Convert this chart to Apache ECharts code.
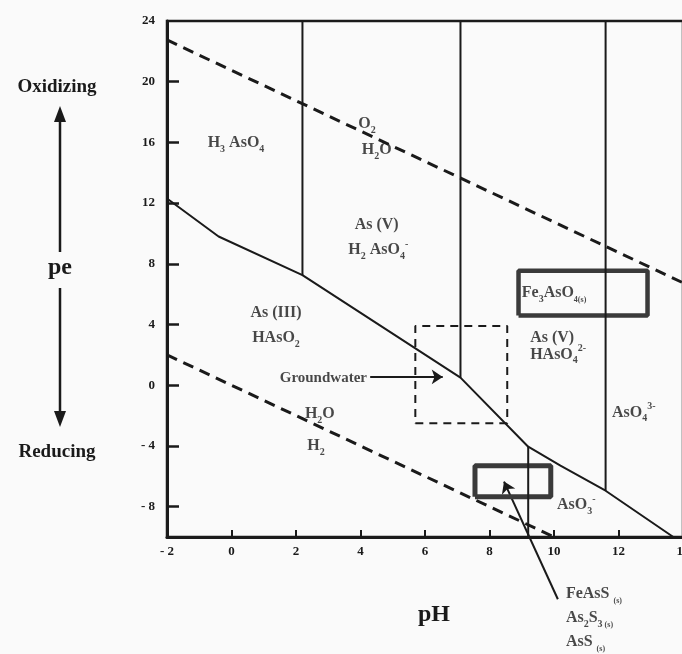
<!DOCTYPE html>
<html>
<head>
<meta charset="utf-8">
<title>pe–pH diagram for arsenic</title>
<script src="https://cdn.jsdelivr.net/npm/echarts@6/dist/echarts.min.js"></script>
<style>
  html, body { margin: 0; padding: 0; background: #fafafa; }
  #chart { width: 682px; height: 654px; }
</style>
</head>
<body>
<div id="chart"></div>
<script>
// ---- data -------------------------------------------------------------
const phTickLabels = [-2, 0, 2, 4, 6, 8, 10, 12, 14];
const phTickMarks  = [0, 2, 4, 6, 8, 10, 12];
const peTickLabels = [-8, -4, 0, 4, 8, 12, 16, 20, 24];
const peTickMarks  = [-8, -4, 0, 4, 8, 12, 16, 20];

// upper and lower stability limits of water
const o2H2oLimit = [[-2, 22.75], [14, 6.75]];
const h2oH2Limit = [[-2, 2], [10, -10]];

// As(V) / As(III) boundary
const redoxBoundary = [
  [-2, 12.3], [-0.4, 9.8], [2.2, 7.25], [7.1, 0.5],
  [9.2, -4.05], [10.2, -5.3], [11.6, -6.95], [13.7, -10]
];

// acid–base boundaries: pH, pe at one end, pe at the other
const pKaBoundaries = [
  [2.2, 24, 7.25],
  [7.1, 24, 0.5],
  [11.6, 24, -6.95],
  [9.2, -10, -4.05]
];

// typical groundwater window
const groundwaterPH = [5.7, 8.55];
const groundwaterPE = [-2.5, 3.9];

// solid phases
const scoroditePH = [8.9, 12.9];
const scoroditePE = [4.6, 7.55];
const sulfidePH = [7.55, 9.9];
const sulfidePE = [-7.35, -5.3];

// arrows: from -> to
const groundwaterArrow = [[4.3, 0.55], [6.55, 0.55]];
const sulfidePointer = [[10.12, -14.1], [8.45, -6.35]];

// ---- styling ----------------------------------------------------------
const INK = '#1a1a1a';
const SERIF = '"Liberation Serif", "DejaVu Serif", serif';

function rect(ph, pe) {
  return [[ph[0], pe[0]], [ph[1], pe[0]], [ph[1], pe[1]], [ph[0], pe[1]], [ph[0], pe[0]]];
}

function path(data, lineStyle, extra) {
  return Object.assign({
    type: 'line', data: data, symbol: 'none', silent: true,
    animation: false, lineStyle: lineStyle
  }, extra || {});
}

const rich = {
  n:  { fontFamily: SERIF, fontWeight: 'bold', fontSize: 16, color: INK, lineHeight: 22 },
  g:  { fontFamily: SERIF, fontWeight: 'bold', fontSize: 15, color: INK, lineHeight: 22 },
  sb: { fontFamily: SERIF, fontWeight: 'bold', fontSize: 10, color: INK, lineHeight: 10, verticalAlign: 'bottom' },
  sp: { fontFamily: SERIF, fontWeight: 'bold', fontSize: 10, color: INK, lineHeight: 10, verticalAlign: 'top' },
  s:  { fontFamily: SERIF, fontWeight: 'bold', fontSize: 8,  color: INK, lineHeight: 8, verticalAlign: 'bottom' }
};

// species names placed on the diagram
const annotations = [
  { text: '{n|H}{sb|3}{n| AsO}{sb|4}',        at: [0.14, 15.95], align: 'center' },
  { text: '{n|O}{sb|2}',                      at: [4.2, 17.2],   align: 'center' },
  { text: '{n|H}{sb|2}{n|O}',                 at: [4.5, 15.5],   align: 'center' },
  { text: '{n|As (V)}',                       at: [4.5, 10.55],  align: 'center' },
  { text: '{n|H}{sb|2}{n| AsO}{sb|4}{sp|-}',  at: [4.55, 8.9],   align: 'center' },
  { text: '{n|As (III)}',                     at: [1.38, 4.76],  align: 'center' },
  { text: '{n|HAsO}{sb|2}',                   at: [1.38, 3.1],   align: 'center' },
  { text: '{g|Groundwater}',                  at: [4.2, 0.5],    align: 'right' },
  { text: '{n|H}{sb|2}{n|O}',                 at: [2.74, -1.9],  align: 'center' },
  { text: '{n|H}{sb|2}',                      at: [2.62, -4.0],  align: 'center' },
  { text: '{n|Fe}{sb|3}{n|AsO}{s|4(s)}',      at: [9.0, 6.08],   align: 'left' },
  { text: '{n|As (V)}',                       at: [9.26, 3.15],  align: 'left' },
  { text: '{n|HAsO}{sb|4}{sp|2-}',            at: [9.26, 2.0],   align: 'left' },
  { text: '{n|AsO}{sb|4}{sp|3-}',             at: [11.8, -1.8],  align: 'left' },
  { text: '{n|AsO}{sb|3}{sp|-}',              at: [10.09, -7.9], align: 'left' },
  { text: '{n|FeAsS }{s|(s)}',                at: [10.37, -13.75], align: 'left' },
  { text: '{n|As}{sb|2}{n|S}{sb|3}{s| (s)}',  at: [10.37, -15.35], align: 'left' },
  { text: '{n|AsS }{s|(s)}',                  at: [10.37, -16.9],  align: 'left' }
];

const series = [
  path(o2H2oLimit, { color: INK, width: 3, type: [11, 7] }),
  path(h2oH2Limit, { color: INK, width: 3, type: [11, 7] }),
  path(redoxBoundary, { color: INK, width: 2 }),
  path(rect(groundwaterPH, groundwaterPE), { color: INK, width: 2, type: [8, 6] }),
  path(rect(scoroditePH, scoroditePE), { color: '#3a3a3a', width: 4.5 }, { clip: false }),
  path(rect(sulfidePH, sulfidePE), { color: '#3a3a3a', width: 5 }, { clip: false })
];

pKaBoundaries.forEach(function (b) {
  series.push(path([[b[0], b[1]], [b[0], b[2]]], { color: INK, width: 2 }));
});

series.push({
  type: 'lines', coordinateSystem: 'cartesian2d', silent: true, animation: false,
  clip: false, polyline: false,
  symbol: ['none', 'arrow'], symbolSize: 11,
  lineStyle: { color: INK, width: 2, opacity: 1 },
  data: [{ coords: groundwaterArrow }, { coords: sulfidePointer }]
});

series.push({
  type: 'scatter', silent: true, animation: false, clip: false,
  symbolSize: 0, itemStyle: { color: 'transparent' },
  data: annotations.map(function (a) {
    return {
      value: a.at,
      label: {
        show: true, position: 'inside', align: a.align, verticalAlign: 'middle',
        formatter: a.text, rich: rich
      }
    };
  })
});

const tickFont = { fontFamily: SERIF, fontWeight: 'bold', fontSize: 13, color: INK };
function tickText(v) { return v < 0 ? '- ' + Math.abs(v) : String(v); }

const option = {
  backgroundColor: '#fafafa',
  animation: false,
  grid: {
    left: 167, top: 21, width: 516, height: 516,
    containLabel: false, outerBoundsMode: 'none',
    show: true, borderColor: INK, borderWidth: 2.5, backgroundColor: 'transparent'
  },
  xAxis: {
    type: 'value', min: -2, max: 14, interval: 2,
    name: 'pH', nameLocation: 'middle', nameGap: 66,
    nameTextStyle: { fontFamily: SERIF, fontWeight: 'bold', fontSize: 24, color: INK, padding: [0, 0, 0, 18] },
    axisLine: { show: true, onZero: false, lineStyle: { color: INK, width: 3 } },
    axisTick: { show: true, inside: true, length: 7, customValues: phTickMarks, lineStyle: { color: INK, width: 2 } },
    axisLabel: Object.assign({ margin: 8, customValues: phTickLabels, formatter: tickText }, tickFont),
    splitLine: { show: false }
  },
  yAxis: {
    type: 'value', min: -10, max: 24, interval: 2,
    axisLine: { show: true, onZero: false, lineStyle: { color: INK, width: 3 } },
    axisTick: { show: true, inside: true, length: 12, customValues: peTickMarks, lineStyle: { color: INK, width: 2.5 } },
    axisLabel: Object.assign({ margin: 12, customValues: peTickLabels, formatter: tickText }, tickFont),
    splitLine: { show: false }
  },
  graphic: [
    { type: 'text', silent: true, style: { text: 'Oxidizing', x: 57, y: 87, align: 'center', verticalAlign: 'middle',
      font: 'bold 19px ' + SERIF, fill: INK } },
    { type: 'line', silent: true, shape: { x1: 60, y1: 252, x2: 60, y2: 118 }, style: { stroke: INK, lineWidth: 2.5 } },
    { type: 'polygon', silent: true, shape: { points: [[60, 106], [54, 122], [66, 122]] }, style: { fill: INK } },
    { type: 'text', silent: true, style: { text: 'pe', x: 60, y: 268, align: 'center', verticalAlign: 'middle',
      font: 'bold 24px ' + SERIF, fill: INK } },
    { type: 'line', silent: true, shape: { x1: 60, y1: 288, x2: 60, y2: 415 }, style: { stroke: INK, lineWidth: 2.5 } },
    { type: 'polygon', silent: true, shape: { points: [[60, 427], [54, 411], [66, 411]] }, style: { fill: INK } },
    { type: 'text', silent: true, style: { text: 'Reducing', x: 57, y: 452, align: 'center', verticalAlign: 'middle',
      font: 'bold 19px ' + SERIF, fill: INK } }
  ],
  series: series
};

const chart = echarts.init(document.getElementById('chart'), null, { renderer: 'canvas' });
chart.setOption(option);
</script>
</body>
</html>
